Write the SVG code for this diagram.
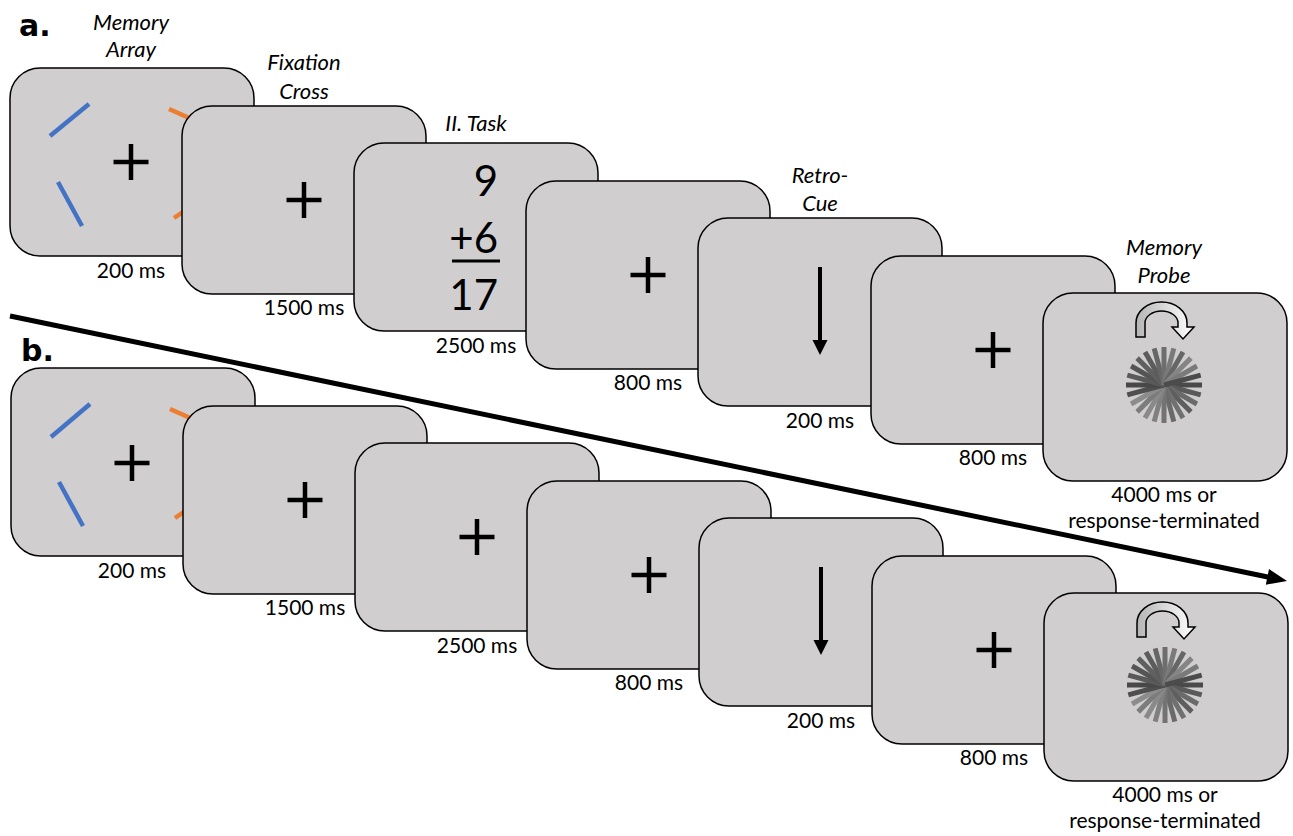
<svg xmlns="http://www.w3.org/2000/svg" xmlns:xlink="http://www.w3.org/1999/xlink" width="1293" height="836" viewBox="0 0 1293 836">
<style>
.panel{fill:#d0cecf;stroke:#000;stroke-width:1.5}
.lbl{font-family:Lato,"Open Sans",sans-serif;font-size:21px;fill:#000;text-anchor:middle}
.ttl{font-family:Lato,"Open Sans",sans-serif;font-size:22px;font-style:italic;fill:#000;text-anchor:middle}
.big{font-family:"DejaVu Sans",sans-serif;font-weight:bold;font-size:30px;fill:#000}
.num{font-family:Lato,"Open Sans",sans-serif;font-size:42px;fill:#000;text-anchor:end}
.blue{stroke:#4472c4;stroke-width:4.5}
.orange{stroke:#ed7d31;stroke-width:4.5}
</style>
<defs>
<g id="cross"><line x1="-17.5" y1="0" x2="17.5" y2="0" stroke="#000" stroke-width="4.5"/><line x1="0" y1="-18" x2="0" y2="18" stroke="#000" stroke-width="4.5"/></g>
<g id="cue"><line x1="0" y1="-118" x2="0" y2="-43" stroke="#000" stroke-width="4"/><polygon points="-7.5,-45 7.5,-45 0,-30" fill="#000"/></g>
<linearGradient id="arcg" x1="0" y1="0" x2="1" y2="0"><stop offset="0" stop-color="#b5b5b5"/><stop offset="1" stop-color="#ffffff"/></linearGradient>
<g id="probe">
<path d="M-28,-48 L-28,-62 A25.5,21 0 0 1 23,-62 L23,-58 L30,-58 L19,-46 L8,-58 L14,-58 L14,-62 A16.5,12 0 0 0 -19,-62 L-19,-48 Z" fill="url(#arcg)" stroke="#000" stroke-width="1.5"/>
<g stroke-width="5">
<line x2="38" stroke="#4a4a4a"/>
<line x2="38" stroke="#5a5a5a" transform="rotate(15)"/>
<line x2="38" stroke="#6a6a6a" transform="rotate(30)"/>
<line x2="38" stroke="#5e5e5e" transform="rotate(45)"/>
<line x2="38" stroke="#707070" transform="rotate(60)"/>
<line x2="38" stroke="#6a6a6a" transform="rotate(75)"/>
<line x2="38" stroke="#737373" transform="rotate(90)"/>
<line x2="38" stroke="#808080" transform="rotate(105)"/>
<line x2="38" stroke="#8a8a8a" transform="rotate(120)"/>
<line x2="38" stroke="#7c7c7c" transform="rotate(135)"/>
<line x2="38" stroke="#8c8c8c" transform="rotate(150)"/>
<line x2="38" stroke="#4f4f4f" transform="rotate(165)"/>
<line x2="38" stroke="#484848" transform="rotate(180)"/>
<line x2="38" stroke="#5a5a5a" transform="rotate(195)"/>
<line x2="38" stroke="#555555" transform="rotate(210)"/>
<line x2="38" stroke="#606060" transform="rotate(225)"/>
<line x2="38" stroke="#5c5c5c" transform="rotate(240)"/>
<line x2="38" stroke="#666666" transform="rotate(255)"/>
<line x2="38" stroke="#6e6e6e" transform="rotate(270)"/>
<line x2="38" stroke="#7a7a7a" transform="rotate(285)"/>
<line x2="38" stroke="#666666" transform="rotate(300)"/>
<line x2="38" stroke="#858585" transform="rotate(315)"/>
<line x2="38" stroke="#7a7a7a" transform="rotate(330)"/>
<line x2="38" stroke="#4c4c4c" transform="rotate(345)"/>
</g>
</g>
</defs>

<text class="big" x="19" y="36">a.</text>
<text class="big" x="21" y="361">b.</text>

<g id="connectors">
<line x1="10" y1="316" x2="1269" y2="577.3" stroke="#000" stroke-width="5"/>
<polygon points="1287,581 1265.8,584.7 1269,569.1" fill="#000"/>
</g>

<!-- Row a -->
<g id="a-memory-array">
<text class="ttl" x="131" y="30">Memory</text>
<text class="ttl" x="131" y="57">Array</text>
<rect class="panel" x="10" y="68" width="244" height="188" rx="30"/>
<line class="blue" x1="50" y1="136" x2="89" y2="104"/>
<line class="blue" x1="58" y1="182" x2="82" y2="226"/>
<line class="orange" x1="169" y1="109" x2="196" y2="121"/>
<line class="orange" x1="174" y1="218" x2="196" y2="203"/>
<use xlink:href="#cross" x="131" y="162"/>
<text class="lbl" x="131" y="278">200 ms</text>
</g>
<g id="a-fixation">
<text class="ttl" x="304" y="70">Fixation</text>
<text class="ttl" x="304" y="99">Cross</text>
<rect class="panel" x="182" y="106" width="244" height="188" rx="30"/>
<use xlink:href="#cross" x="304" y="200"/>
<text class="lbl" x="304" y="315">1500 ms</text>
</g>
<g id="a-task">
<text class="ttl" x="476" y="131">II. Task</text>
<rect class="panel" x="354" y="143" width="244" height="188" rx="30"/>
<text class="num" x="498" y="196">9</text>
<text class="num" x="498" y="253">+6</text>
<line x1="452" y1="261" x2="500" y2="261" stroke="#000" stroke-width="3"/>
<text class="num" x="498" y="310">17</text>
<text class="lbl" x="476" y="353">2500 ms</text>
</g>
<g id="a-delay1">
<rect class="panel" x="526" y="181" width="244" height="188" rx="30"/>
<use xlink:href="#cross" x="648" y="275"/>
<text class="lbl" x="648" y="390">800 ms</text>
</g>
<g id="a-retrocue">
<text class="ttl" x="820" y="183">Retro-</text>
<text class="ttl" x="820" y="211">Cue</text>
<rect class="panel" x="698" y="218" width="244" height="188" rx="30"/>
<use xlink:href="#cue" x="820" y="385"/>
<text class="lbl" x="820" y="428">200 ms</text>
</g>
<g id="a-delay2">
<rect class="panel" x="871" y="256" width="244" height="188" rx="30"/>
<use xlink:href="#cross" x="993" y="350"/>
<text class="lbl" x="993" y="465">800 ms</text>
</g>
<g id="a-probe">
<text class="ttl" x="1164" y="255">Memory</text>
<text class="ttl" x="1164" y="283">Probe</text>
<rect class="panel" x="1043" y="293" width="244" height="188" rx="30"/>
<use xlink:href="#probe" x="1164" y="385"/>
<text class="lbl" x="1164" y="502">4000 ms or</text>
<text class="lbl" x="1164" y="528">response-terminated</text>
</g>

<!-- Row b -->
<g id="b-memory-array">
<rect class="panel" x="11" y="368" width="244" height="188" rx="30"/>
<line class="blue" x1="51" y1="437" x2="90" y2="404"/>
<line class="blue" x1="59" y1="482" x2="83" y2="526"/>
<line class="orange" x1="170" y1="409" x2="197" y2="421"/>
<line class="orange" x1="175" y1="518" x2="197" y2="503"/>
<use xlink:href="#cross" x="132" y="463"/>
<text class="lbl" x="132" y="578">200 ms</text>
</g>
<g id="b-fixation">
<rect class="panel" x="183" y="406" width="244" height="188" rx="30"/>
<use xlink:href="#cross" x="305" y="500"/>
<text class="lbl" x="305" y="615">1500 ms</text>
</g>
<g id="b-delay">
<rect class="panel" x="355" y="443" width="244" height="188" rx="30"/>
<use xlink:href="#cross" x="477" y="537"/>
<text class="lbl" x="477" y="653">2500 ms</text>
</g>
<g id="b-delay1">
<rect class="panel" x="527" y="481" width="244" height="188" rx="30"/>
<use xlink:href="#cross" x="649" y="575"/>
<text class="lbl" x="649" y="690">800 ms</text>
</g>
<g id="b-retrocue">
<rect class="panel" x="699" y="518" width="244" height="188" rx="30"/>
<use xlink:href="#cue" x="821" y="685"/>
<text class="lbl" x="821" y="728">200 ms</text>
</g>
<g id="b-delay2">
<rect class="panel" x="872" y="556" width="244" height="188" rx="30"/>
<use xlink:href="#cross" x="994" y="650"/>
<text class="lbl" x="994" y="765">800 ms</text>
</g>
<g id="b-probe">
<rect class="panel" x="1044" y="593" width="244" height="188" rx="30"/>
<use xlink:href="#probe" x="1165" y="685"/>
<text class="lbl" x="1165" y="802">4000 ms or</text>
<text class="lbl" x="1165" y="828">response-terminated</text>
</g>
</svg>
